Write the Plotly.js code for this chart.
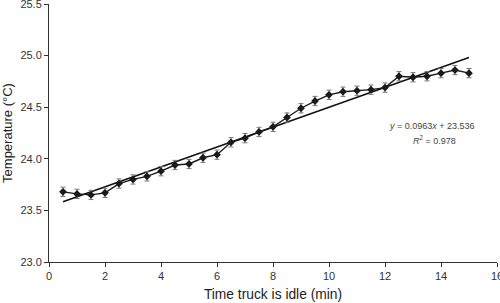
<!DOCTYPE html>
<html><head><meta charset="utf-8">
<script src="https://cdn.plot.ly/plotly-3.0.1.min.js"></script>
<style>html,body{margin:0;padding:0;background:#fff}#chart{width:500px;height:303px}</style>
</head><body><div id="chart"></div>
<script>
const timeMin = [0.5,1,1.5,2,2.5,3,3.5,4,4.5,5,5.5,6,6.5,7,7.5,8,8.5,9,9.5,10,10.5,11,11.5,12,12.5,13,13.5,14,14.5,15];
const tempC = [23.68,23.66,23.65,23.67,23.76,23.80,23.83,23.88,23.94,23.95,24.01,24.04,24.16,24.20,24.26,24.31,24.40,24.49,24.56,24.62,24.65,24.66,24.67,24.69,24.80,24.79,24.80,24.83,24.86,24.83];
const tempErr = [0.045,0.045,0.045,0.045,0.045,0.045,0.045,0.045,0.045,0.045,0.045,0.045,0.045,0.045,0.045,0.045,0.045,0.045,0.045,0.045,0.045,0.045,0.045,0.045,0.045,0.045,0.045,0.045,0.045,0.045];
const trendX = [0.5, 15];
const trendY = [23.584, 24.981];
const xTicks = [0,2,4,6,8,10,12,14,16];
const yTicks = [23.0,23.5,24.0,24.5,25.0,25.5];
const eqLine1 = "<i>y</i> = 0.0963<i>x</i> + 23.536";
const eqLine2 = "<i>R</i><sup>2</sup> = 0.978";

const data = [
  {x: trendX, y: trendY, mode: 'lines', line: {color: '#111', width: 1.6}, hoverinfo: 'skip'},
  {x: timeMin, y: tempC, mode: 'lines+markers',
   line: {color: '#1a1a1a', width: 1.4},
   marker: {symbol: 'diamond', size: 6, color: '#1a1a1a'},
   error_y: {type: 'data', array: tempErr, visible: true, color: '#777', thickness: 1, width: 2.5}}
];
const layout = {
  width: 500, height: 303,
  margin: {l: 49, r: 3, t: 4, b: 41},
  paper_bgcolor: '#fff', plot_bgcolor: '#fff',
  showlegend: false,
  font: {family: 'Liberation Sans, Arial, sans-serif', color: '#333'},
  xaxis: {range: [0, 16], tickvals: xTicks, ticktext: xTicks.map(String),
    showgrid: false, zeroline: false, showline: true, linecolor: '#333', linewidth: 1,
    ticks: 'outside', ticklen: 4, tickcolor: '#333', tickfont: {size: 11, color: '#333'},
    ticklabeloverflow: 'allow',
    title: {text: 'Time truck is idle (min)', font: {size: 13.8, color: '#222'}, standoff: 8}},
  yaxis: {range: [23.0, 25.5], tickvals: yTicks, ticktext: yTicks.map(v => v.toFixed(1)),
    showgrid: false, zeroline: false, showline: true, linecolor: '#333', linewidth: 1,
    ticks: 'outside', ticklen: 4, tickcolor: '#333', tickfont: {size: 11, color: '#333'},
    ticklabeloverflow: 'allow',
    title: {text: 'Temperature (°C)', font: {size: 13, color: '#222'}, standoff: 6}},
  annotations: [
    {xref: 'paper', yref: 'paper', x: (432-49)/448, y: (262-126)/258, text: eqLine1, showarrow: false,
     font: {size: 9, color: '#444'}, xanchor: 'center', yanchor: 'middle'},
    {xref: 'paper', yref: 'paper', x: (434-49)/448, y: (262-140)/258, text: eqLine2, showarrow: false,
     font: {size: 9, color: '#444'}, xanchor: 'center', yanchor: 'middle'}
  ]
};
Plotly.newPlot('chart', data, layout, {displayModeBar: false, staticPlot: true});
</script></body></html>
